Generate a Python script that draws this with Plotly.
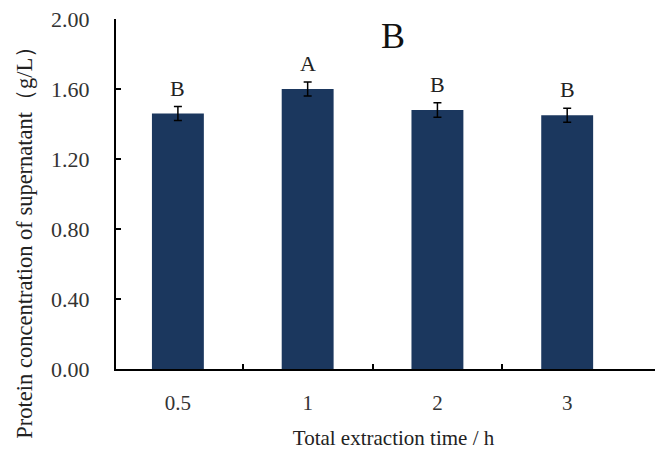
import plotly.graph_objects as go

categories = ["0.5", "1", "2", "3"]
values = [1.46, 1.60, 1.48, 1.45]
errors = [0.04, 0.04, 0.042, 0.04]
letters = ["B", "A", "B", "B"]
y_ticks = [0.0, 0.4, 0.8, 1.2, 1.6, 2.0]

xs = list(range(len(categories)))
FONT = "Liberation Serif"
BAR = "#1b375e"

fig = go.Figure()
fig.add_trace(go.Bar(
    x=xs, y=values, width=0.4,
    marker=dict(color=BAR, line=dict(width=0)),
    error_y=dict(type="data", array=errors, visible=True, color="black",
                 thickness=1.5, width=4),
))

for x, v, e, t in zip(xs, values, errors, letters):
    fig.add_annotation(x=x, y=v + e, text=t, showarrow=False, yanchor="bottom",
                       yshift=4, font=dict(family=FONT, size=22, color="#222"))

fig.add_annotation(x=0.499, xref="paper", y=0.951, yref="paper", text="B",
                   showarrow=False, xanchor="center", yanchor="middle",
                   font=dict(family=FONT, size=36, color="#111"))

fig.add_annotation(x=-0.164, xref="paper", y=0.378, yref="paper",
                   text="Protein concentration of supernatant（g/L）",
                   textangle=-90, showarrow=False, xanchor="center", yanchor="middle",
                   font=dict(family=FONT, size=22.5, color="#222"))

fig.update_layout(
    width=663, height=449,
    margin=dict(l=108, r=0, t=11, b=88, autoexpand=False),
    paper_bgcolor="white", plot_bgcolor="white",
    showlegend=False,
    font=dict(family=FONT, color="#222"),
)
fig.update_xaxes(
    range=[-0.477, 3.80], automargin=False,
    tickmode="array", tickvals=xs, ticktext=categories,
    ticks="", showgrid=False, zeroline=False,
    showline=True, linecolor="black", linewidth=2,
    tickfont=dict(family=FONT, size=21, color="#333"),
    ticklabelstandoff=14,
    minor=dict(tickmode="array", tickvals=[0.5, 1.5, 2.5], ticks="inside",
               ticklen=5, tickwidth=2, tickcolor="black", showgrid=False),
    title=dict(text="Total extraction time / h", standoff=16,
               font=dict(family=FONT, size=21, color="#222")),
)
fig.update_yaxes(
    range=[0, 2.0], automargin=False,
    tickmode="array", tickvals=y_ticks, ticktext=[f"{v:.2f}" for v in y_ticks],
    ticks="inside", ticklen=5, tickwidth=2, tickcolor="black",
    showgrid=False, zeroline=False,
    showline=True, linecolor="black", linewidth=2,
    tickfont=dict(family=FONT, size=22, color="#333"),
    ticklabelstandoff=20, ticklabeloverflow="allow",
)

fig.write_html("out.html")
